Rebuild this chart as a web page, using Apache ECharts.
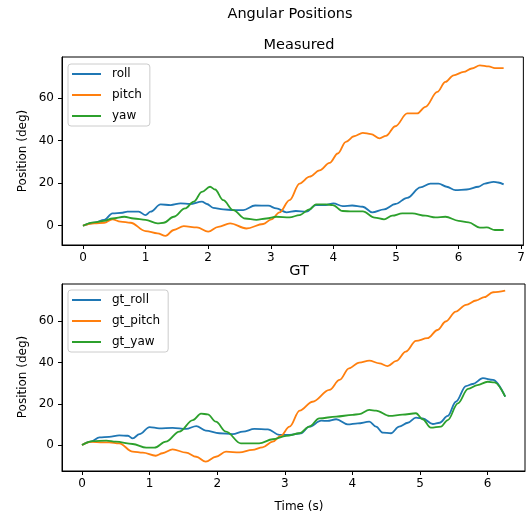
<!DOCTYPE html>
<html><head><meta charset="utf-8">
<script src="https://cdn.jsdelivr.net/npm/echarts@6/dist/echarts.min.js"></script>
<style>html,body{margin:0;padding:0;background:#fff}#c{width:528px;height:516px}</style>
</head><body><div id="c"></div>
<script>
// ---- Measured (top) ----
const rollT = [0,0.18,0.34,0.47,0.63,0.71,0.89,1.0,1.08,1.24,1.4,1.56,1.71,1.9,1.98,2.08,2.24,2.4,2.56,2.75,2.96,3.09,3.25,3.4,3.57,3.72,3.88,4.0,4.15,4.3,4.47,4.62,4.81,4.99,5.18,5.39,5.55,5.68,5.81,5.95,6.13,6.32,6.42,6.56,6.63,6.72];
const rollV = [0,1.4,2.7,5.8,6.1,6.6,6.6,5.0,6.6,10,9.7,10.5,10.2,11.3,10.2,8.4,7.7,7.3,7.3,9.5,9.4,8.1,6.3,6.9,6.6,9.7,9.7,10.5,9.2,9.5,8.9,6.3,7.7,10.2,13.1,18,19.8,19.8,18.3,16.7,17,18.3,19.8,20.6,20.3,19.4];
const pitchT = [0,0.18,0.34,0.47,0.6,0.76,1.0,1.19,1.32,1.45,1.61,1.82,2.0,2.16,2.35,2.61,2.88,3.01,3.14,3.3,3.46,3.62,3.78,3.94,4.07,4.2,4.33,4.47,4.6,4.74,4.84,4.99,5.18,5.34,5.47,5.66,5.79,5.92,6.08,6.21,6.34,6.48,6.58,6.72];
const pitchV = [0,1.1,1.4,3.0,1.9,1.4,-2.5,-3.6,-4.8,-2,-0.2,-0.8,-2.8,-0.5,1.1,-1.3,0.8,3.0,6.3,12,19.8,23,26,29.5,33.9,39.4,42,43.6,43,41,42.2,46.7,52.7,52.7,55.8,62.8,67.5,70.6,72.2,73.8,75.3,74.8,74,74];
const yawT = [0,0.18,0.34,0.47,0.66,0.81,1.0,1.19,1.29,1.45,1.63,1.77,1.9,2.03,2.11,2.24,2.4,2.59,2.77,2.93,3.09,3.3,3.46,3.62,3.72,3.88,3.99,4.15,4.3,4.47,4.66,4.81,4.94,5.1,5.26,5.47,5.63,5.79,6.0,6.16,6.34,6.45,6.58,6.72];
const yawV = [0,1.6,2.3,3.4,4.2,3.4,2.7,1.1,1.4,4.2,8.1,11.3,15.9,18.3,17,12,7.3,3.4,2.7,3.4,4.2,3.9,5.0,7.7,10,10,9.7,6.9,6.7,6.7,3.8,3.0,4.7,5.8,5.8,4.7,3.9,4.2,2.3,1.6,-0.9,-0.8,-2,-2];

// ---- GT (bottom) ----
const gtRollT = [0,0.13,0.26,0.4,0.55,0.68,0.75,0.85,1.0,1.14,1.34,1.54,1.69,1.83,2.03,2.23,2.38,2.55,2.75,2.92,3.07,3.24,3.36,3.54,3.63,3.76,3.93,4.08,4.25,4.35,4.45,4.57,4.69,4.82,4.94,5.04,5.19,5.29,5.41,5.53,5.68,5.78,5.93,6.08,6.26];
const gtRollV = [0,1.6,3.7,4.0,4.7,4.5,3.2,5.3,8.7,8.1,8.3,7.8,9.2,7.0,5.7,5.3,6.5,7.8,7.6,4.9,4.9,5.7,8.9,11.8,11.7,12.5,10,10.5,11.3,8.9,6.0,5.7,8.9,10.8,13.3,12.9,10.2,10.8,14.1,21,28.6,29.6,32.4,31.6,23.5];
const gtPitchT = [0,0.13,0.31,0.4,0.55,0.75,0.9,1.09,1.19,1.34,1.54,1.69,1.83,1.98,2.13,2.33,2.52,2.67,2.82,2.94,3.07,3.22,3.41,3.66,3.81,3.95,4.1,4.25,4.4,4.52,4.65,4.79,4.94,5.11,5.26,5.38,5.53,5.68,5.83,5.95,6.08,6.26];
const gtPitchV = [0,1.5,1.3,1.3,0.8,-3.2,-3.7,-5.2,-4,-2.1,-3.7,-5.7,-8.1,-5.7,-3.2,-3.6,-2.4,-1.1,1.6,4.4,8.9,16.7,21,26.7,31.6,37.2,40,40.9,39.6,38.3,40.8,45.3,50.5,51.8,55.8,59.9,64.7,68,70.1,71.7,74.1,74.9];
const gtYawT = [0,0.16,0.36,0.5,0.75,0.95,1.07,1.24,1.44,1.64,1.76,1.86,1.98,2.13,2.35,2.62,2.82,3.02,3.22,3.36,3.51,3.76,4.0,4.1,4.25,4.35,4.55,4.74,4.94,5.04,5.16,5.31,5.41,5.56,5.71,5.85,6.0,6.1,6.26];
const gtYawV = [0,1.9,2.1,1.6,0.5,-1.3,-1.3,1.6,6.5,12.1,15.2,14.9,11.3,6.5,0.8,0.8,2.8,4.4,5.7,8.9,12.9,13.8,14.6,15,17,16.7,14.1,14.7,15.4,12.5,8.4,8.9,12.1,20.2,27.2,29.1,30.7,30.4,23.5];

const xTicksTop = [0,1,2,3,4,5,6,7];
const xTicksBottom = [0,1,2,3,4,5,6];
const yTicks = [0,20,40,60];

const pairs = (t, v) => t.map((x, i) => [x, v[i]]);
const FONT = 'DejaVu Sans';
const C = ['#1f77b4', '#ff7f0e', '#2ca02c'];

function xAxis(idx, min, max, ticks) {
  return {
    type: 'value', gridIndex: idx, min, max, position: 'bottom',
    axisLine: { show: true, onZero: false, lineStyle: { color: '#000', width: 1 } },
    splitLine: { show: false },
    axisTick: { show: true, inside: false, customValues: ticks, length: 4, lineStyle: { color: '#000', width: 1 } },
    axisLabel: { customValues: ticks, margin: 7, color: '#000', fontFamily: FONT, fontSize: 12 }
  };
}
function yAxis(idx, min, max) {
  return {
    type: 'value', gridIndex: idx, min, max, position: 'left',
    axisLine: { show: true, onZero: false, lineStyle: { color: '#000', width: 1 } },
    splitLine: { show: false },
    axisTick: { show: true, inside: false, customValues: yTicks, length: 4, lineStyle: { color: '#000', width: 1 } },
    axisLabel: { customValues: yTicks, margin: 8, color: '#000', fontFamily: FONT, fontSize: 12 }
  };
}
function line(name, data, ci, idx) {
  return {
    name, type: 'line', xAxisIndex: idx, yAxisIndex: idx, data,
    showSymbol: false, smooth: 0.35, smoothMonotone: 'x',
    lineStyle: { color: C[ci], width: 1.8 }, itemStyle: { color: C[ci] },
    animation: false
  };
}
function legend(names, left, top) {
  return {
    data: names, orient: 'vertical', left, top,
    icon: 'rect', itemWidth: 29, itemHeight: 2, itemGap: 7,
    padding: [3, 8, 3, 4],
    borderColor: '#cccccc', borderWidth: 1, borderRadius: 3,
    backgroundColor: 'rgba(255,255,255,0.8)',
    textStyle: { fontFamily: FONT, fontSize: 12, color: '#000', lineHeight: 14, padding: [0, 0, 0, 6] }
  };
}
const TS = { fontFamily: FONT, fontSize: 14.5, fontWeight: 'normal', color: '#000' };

const chart = echarts.init(document.getElementById('c'), null, { renderer: 'canvas' });
chart.setOption({
  animation: false,
  backgroundColor: '#fff',
  title: [
    { text: 'Angular Positions', left: 285, top: 2, textAlign: 'center', textStyle: TS },
    { text: 'Measured', left: 294, top: 33, textAlign: 'center', textStyle: TS },
    { text: 'GT', left: 294, top: 259, textAlign: 'center', textStyle: TS },
    { text: 'Time (s)', left: 294, top: 496, textAlign: 'center', textStyle: { fontFamily: FONT, fontSize: 12, fontWeight: 'normal', color: '#000' } }
  ],
  graphic: [
    { type: 'text', x: 23, y: 151, rotation: Math.PI / 2, style: { text: 'Position (deg)', font: '12px "DejaVu Sans"', fill: '#000', textAlign: 'center', textVerticalAlign: 'middle' } },
    { type: 'text', x: 23, y: 377, rotation: Math.PI / 2, style: { text: 'Position (deg)', font: '12px "DejaVu Sans"', fill: '#000', textAlign: 'center', textVerticalAlign: 'middle' } }
  ],
  grid: [
    { left: 62, top: 57, width: 463, height: 188, show: true, borderColor: '#000', borderWidth: 1, backgroundColor: 'transparent' },
    { left: 62, top: 284, width: 463, height: 187, show: true, borderColor: '#000', borderWidth: 1, backgroundColor: 'transparent' }
  ],
  xAxis: [ xAxis(0, -0.335, 7.035, xTicksTop), xAxis(1, -0.296, 6.553, xTicksBottom) ],
  yAxis: [ yAxis(0, -9.05, 79.2), yAxis(1, -12.6, 78.1) ],
  legend: [ legend(['roll', 'pitch', 'yaw'], 68, 64), legend(['gt_roll', 'gt_pitch', 'gt_yaw'], 68, 290) ],
  series: [
    line('roll', pairs(rollT, rollV), 0, 0),
    line('pitch', pairs(pitchT, pitchV), 1, 0),
    line('yaw', pairs(yawT, yawV), 2, 0),
    line('gt_roll', pairs(gtRollT, gtRollV), 0, 1),
    line('gt_pitch', pairs(gtPitchT, gtPitchV), 1, 1),
    line('gt_yaw', pairs(gtYawT, gtYawV), 2, 1)
  ]
});
</script></body></html>
